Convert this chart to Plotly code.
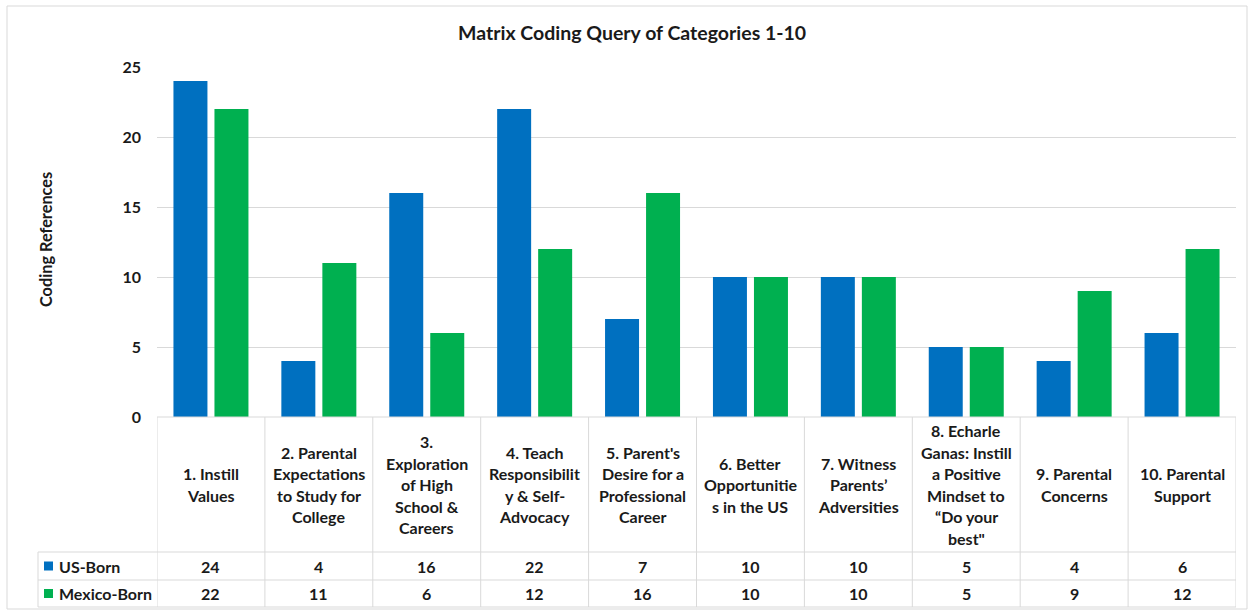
import plotly.graph_objects as go

# ---------------- data ----------------
categories = [
    "1. Instill<br>Values",
    "2. Parental<br>Expectations<br>to Study for<br>College",
    "3.<br>Exploration<br>of High<br>School &<br>Careers",
    "4. Teach<br>Responsibilit<br>y & Self-<br>Advocacy",
    "5. Parent's<br>Desire for a<br>Professional<br>Career",
    "6. Better<br>Opportunitie<br>s in the US",
    "7. Witness<br>Parents’<br>Adversities",
    "8. Echarle<br>Ganas: Instill<br>a Positive<br>Mindset to<br>“Do your<br>best\"",
    "9. Parental<br>Concerns",
    "10. Parental<br>Support",
]
us_born = [24, 4, 16, 22, 7, 10, 10, 5, 4, 6]
mexico_born = [22, 11, 6, 12, 16, 10, 10, 5, 9, 12]
series_names = ["US-Born", "Mexico-Born"]
y_ticks = [0, 5, 10, 15, 20, 25]
title = "Matrix Coding Query of Categories 1-10"
y_title = "Coding References"

# ---------------- style ----------------
BLUE = "#0070C0"
GREEN = "#00B050"
GRID = "#d9d9d9"
TXT = "#1a1a1a"
FONT = "Lato"
W, H = 1250, 612
PX0, PX1, PY0, PY1 = 157, 1236, 67, 417  # plot area in pixels


def px(xp):
    return (xp - PX0) / (PX1 - PX0)


def py(yp):
    return (PY1 - yp) / (PY1 - PY0)


def fnt(size):
    return dict(family=FONT, size=size, color=TXT, weight="bold")


xs = list(range(len(categories)))
bw = 0.315
fig = go.Figure()
fig.add_trace(go.Bar(x=xs, y=us_born, name=series_names[0], marker_color=BLUE,
                     width=bw, offset=-0.19 - bw / 2, marker_line_width=0))
fig.add_trace(go.Bar(x=xs, y=mexico_born, name=series_names[1], marker_color=GREEN,
                     width=bw, offset=0.19 - bw / 2, marker_line_width=0))

shapes = []
annotations = []
line = dict(color=GRID, width=1)

# outer chart border
shapes.append(dict(type="rect", xref="paper", yref="paper",
                   x0=px(7), x1=px(1247), y0=py(6), y1=py(609), line=line, layer="below"))

# data table grid
T_TOP, R1, R2, T_BOT, T_LEFT = 417, 552, 580, 607, 38
for b in range(len(categories) + 1):
    xb = b - 0.5
    shapes.append(dict(type="line", xref="x", yref="paper", x0=xb, x1=xb,
                       y0=py(T_TOP), y1=py(T_BOT), line=line))
shapes.append(dict(type="line", xref="paper", yref="paper", x0=px(T_LEFT), x1=px(T_LEFT),
                   y0=py(R1), y1=py(T_BOT), line=line))
shapes.append(dict(type="line", xref="paper", yref="paper", x0=px(PX0), x1=px(PX1),
                   y0=py(T_TOP), y1=py(T_TOP), line=line))
for yy in (R1, R2, T_BOT):
    shapes.append(dict(type="line", xref="paper", yref="paper", x0=px(T_LEFT), x1=px(PX1),
                       y0=py(yy), y1=py(yy), line=line))

# header labels (one annotation per line for Excel-like line spacing)
LS = 21.5
hc = (T_TOP + R1) / 2
for i, cat in enumerate(categories):
    lines = cat.split("<br>")
    n = len(lines)
    for k, t in enumerate(lines):
        yline = hc + (k - (n - 1) / 2) * LS
        annotations.append(dict(x=i, y=py(yline), xref="x", yref="paper", text=t,
                                showarrow=False, xanchor="center", yanchor="middle",
                                font=fnt(16)))

# value rows
for row, (vals, color, name) in enumerate([(us_born, BLUE, series_names[0]),
                                           (mexico_born, GREEN, series_names[1])]):
    yc = (R1 + R2) / 2 if row == 0 else (R2 + T_BOT) / 2
    for i, v in enumerate(vals):
        annotations.append(dict(x=i, y=py(yc), xref="x", yref="paper", text=str(v),
                                showarrow=False, xanchor="center", yanchor="middle",
                                font=fnt(16)))
    shapes.append(dict(type="rect", xref="paper", yref="paper", x0=px(44), x1=px(53),
                       y0=py(yc - 4.5), y1=py(yc + 4.5), fillcolor=color, line=dict(width=0)))
    annotations.append(dict(x=px(57), y=py(yc), xref="paper", yref="paper", text=name,
                            showarrow=False, xanchor="left", yanchor="middle",
                            font=fnt(16)))

# title and y-axis title
annotations.append(dict(x=px(632), y=py(33), xref="paper", yref="paper", text=title,
                        showarrow=False, xanchor="center", yanchor="middle",
                        font=fnt(19.5)))
annotations.append(dict(x=px(45), y=py(240), xref="paper", yref="paper", text=y_title,
                        showarrow=False, xanchor="center", yanchor="middle", textangle=-90,
                        font=fnt(16.3)))

fig.update_layout(
    width=W, height=H,
    margin=dict(l=PX0, r=W - PX1, t=PY0, b=H - PY1, pad=0),
    paper_bgcolor="white", plot_bgcolor="white",
    showlegend=False,
    barmode="overlay",
    shapes=shapes,
    annotations=annotations,
    xaxis=dict(range=[-0.5, len(categories) - 0.5], showticklabels=False, showgrid=False,
               zeroline=False, showline=False, fixedrange=True),
    yaxis=dict(range=[0, 25], tickvals=y_ticks, showgrid=True, gridcolor=GRID, gridwidth=1,
               zeroline=False, showline=False, ticks="", ticklabelstandoff=15,
               tickfont=fnt(16), fixedrange=True),
)

fig.write_html("out.html", config={"displayModeBar": False},
               post_script="document.body.style.margin='0';document.body.style.overflow='hidden';")
